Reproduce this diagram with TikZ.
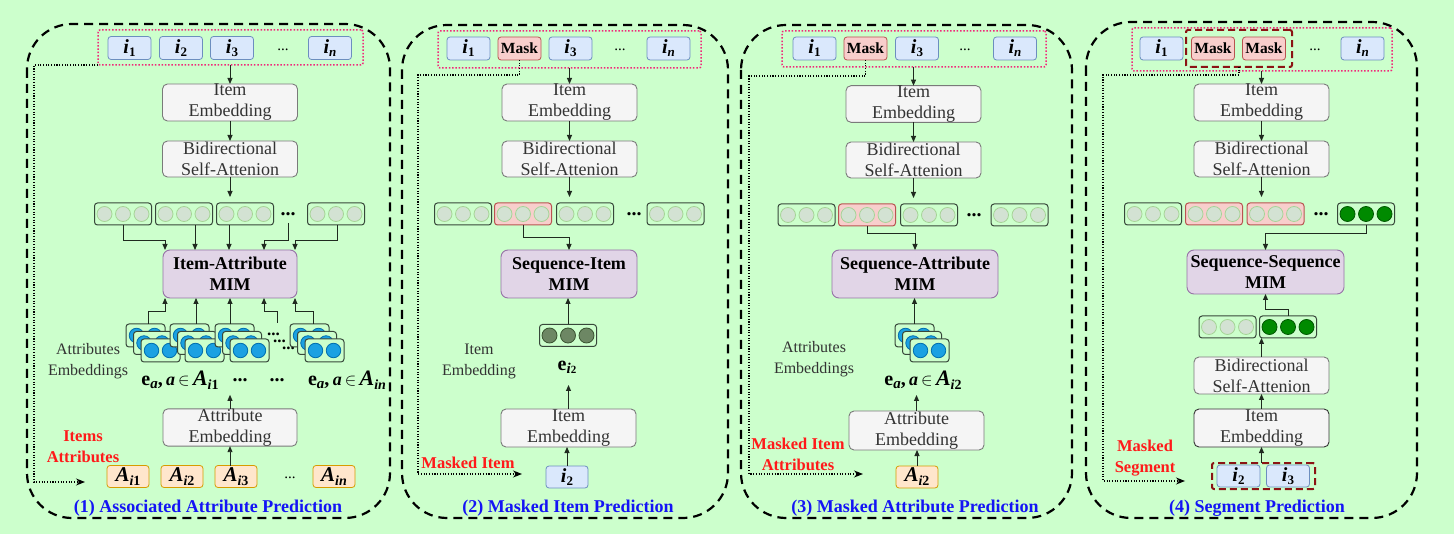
\documentclass[tikz,border=0pt]{standalone}
\usepackage{fontspec}
\setmainfont{Liberation Serif}
\usetikzlibrary{arrows.meta,calc}
\definecolor{bg}{HTML}{CCFFCC}
\definecolor{itemF}{HTML}{DAE8FC}\definecolor{itemD}{HTML}{6C8EBF}
\definecolor{maskF}{HTML}{F8CECC}\definecolor{maskD}{HTML}{B85450}
\definecolor{grayF}{HTML}{F5F5F5}\definecolor{grayD}{HTML}{7A7A7A}
\definecolor{mimF}{HTML}{E1D5E7}\definecolor{mimD}{HTML}{9673A6}
\definecolor{attrF}{HTML}{FFE6CC}\definecolor{attrD}{HTML}{D79B00}
\definecolor{rowD}{HTML}{37473A}
\definecolor{lcF}{HTML}{D3E2D3}\definecolor{lcD}{HTML}{A6D497}
\definecolor{dgF}{HTML}{6D8764}\definecolor{dgD}{HTML}{3A5431}
\definecolor{gF}{HTML}{008A00}\definecolor{gD}{HTML}{005700}
\definecolor{bF}{HTML}{1BA1E2}\definecolor{bD}{HTML}{006EAF}
\definecolor{pinkD}{HTML}{F0287A}
\definecolor{segD}{HTML}{8B1414}
\definecolor{txtD}{HTML}{333333}
\definecolor{arrD}{HTML}{1F2A1F}
\definecolor{redT}{HTML}{FF1A1A}
\definecolor{capT}{HTML}{1414F5}
\newcommand\ii[1]{\textit{i}\raisebox{-3pt}{\fontsize{13}{13}\selectfont\upshape #1}}
\newcommand\Aa[1]{{\fontsize{21}{21}\selectfont\textit{A}}\raisebox{-4pt}{\fontsize{14}{14}\selectfont\textit{i}\upshape #1}}
\newcommand\ea[1]{\textbf{e}\raisebox{-3pt}{\fontsize{15}{15}\selectfont\textbf{\textit{a}}}\textbf{,}\,{\fontsize{18}{18}\selectfont\textbf{\textit{a}}\,$\in$}\,{\fontsize{22}{22}\selectfont\textbf{\textit{A}}}\raisebox{-4pt}{\fontsize{14}{14}\selectfont\textbf{\textit{i}}\textbf{#1}}}
\newcommand\erow[5]{%
  \node[#4] (#1) at (#2,#3) {};
  \node[#5] (#1a) at ($(#1)+(-18.5,0)$) {};
  \node[#5] (#1b) at (#1) {};
  \node[#5] (#1c) at ($(#1)+(18.5,0)$) {};
}
\newcommand\astack[3]{%
  \node[stbox] (#1) at ({#2+19.5},{#3+11.5}) {};
  \node[bc] (#1x) at ($(#1)+(-9,0)$) {};
  \node[bc] (#1y) at ($(#1)+(9,0)$) {};
  \node[stbox] (#1m) at ({#2+27},{#3+19}) {};
  \node[bc] (#1mx) at ($(#1m)+(-9,0)$) {};
  \node[bc] (#1my) at ($(#1m)+(9,0)$) {};
  \node[stbox] (#1f) at ({#2+34.5},{#3+26.5}) {};
  \node[bc] (#1fx) at ($(#1f)+(-9,0)$) {};
  \node[bc] (#1fy) at ($(#1f)+(9,0)$) {};
}
\begin{document}
\begin{tikzpicture}[x=1pt,y=-1pt,
 base/.style={inner sep=0pt, outer sep=0pt},
 itembox/.style={base, rounded corners=3pt, fill=itemF, draw=itemD, line width=0.8pt, minimum width=43pt, minimum height=23pt, font=\fontsize{20}{20}\selectfont\bfseries\itshape},
 maskbox/.style={itembox, fill=maskF, draw=maskD, font=\fontsize{15.5}{15.5}\selectfont\bfseries},
 seqframe/.style={base, draw=pinkD, line width=1.5pt, dash pattern=on 1.5pt off 1.8pt, rounded corners=2pt},
 segbox/.style={base, draw=segD, line width=2pt, dash pattern=on 7pt off 4pt, rounded corners=2pt},
 graybox/.style={base, rounded corners=5pt, fill=grayF, draw=grayD, line width=0.9pt, minimum width=135pt, minimum height=37pt, align=center, text=txtD, font=\fontsize{18}{21}\selectfont},
 mimbox/.style={base, rounded corners=7pt, fill=mimF, draw=mimD, line width=0.9pt, minimum height=48pt, align=center, font=\fontsize{18}{21}\selectfont\bfseries},
 attrbox/.style={base, rounded corners=3pt, fill=attrF, draw=attrD, line width=0.8pt, minimum width=42pt, minimum height=22pt, font=\bfseries\itshape},
 rowbox/.style={base, rounded corners=3pt, draw=rowD, line width=1pt, minimum width=57pt, minimum height=22pt},
 pinkrow/.style={rowbox, fill=maskF, draw=maskD},
 lc/.style={base, circle, minimum size=15pt, fill=lcF, draw=lcD, line width=0.8pt},
 dgc/.style={lc, fill=dgF, draw=dgD},
 gc/.style={lc, fill=gF, draw=gD},
 bc/.style={lc, minimum size=14.5pt, fill=bF, draw=bD},
 stbox/.style={base, rounded corners=3pt, fill=bg, draw=rowD, line width=1pt, minimum width=39pt, minimum height=23pt},
 panel/.style={draw=black, line width=2.2pt, dash pattern=on 9pt off 6pt, rounded corners=45pt},
 arr/.style={draw=arrD, line width=0.9pt, -{Triangle[length=6pt,width=5pt]}},
 dotarr/.style={draw=black, line width=1.1pt, dash pattern=on 1.1pt off 1.6pt, -{Stealth[length=9pt,width=7pt]}},
 gl/.style={base, align=center, text=txtD, font=\fontsize{16}{21}\selectfont},
 redl/.style={base, align=center, text=redT, font=\fontsize{16.5}{21}\selectfont\bfseries},
 capl/.style={base, anchor=base, text=capT, font=\fontsize{18}{18}\selectfont\bfseries},
 dts/.style={base, anchor=base, font=\fontsize{15}{15}\selectfont},
 bdts/.style={base, anchor=base, font=\fontsize{20}{20}\selectfont\bfseries},
 elab/.style={base, anchor=base, font=\fontsize{20}{20}\selectfont},
]
\fill[bg] (0,0) rectangle (1454,534);
\useasboundingbox (0,0) rectangle (1454,534);

% ================= Panel 1 =================
\draw[panel] (27,24) rectangle (390,518);
\node[seqframe, minimum width=265pt, minimum height=35pt] (p1) at (230.5,47.5) {};
\node[itembox] (i11) at (129.5,48) {\ii{1}};
\node[itembox] (i12) at (181,48) {\ii{2}};
\node[itembox] (i13) at (232,48) {\ii{3}};
\node[dts] (id1) at (283,51) {...};
\node[itembox] (i1n) at (330,48) {\ii{\textit{n}}};
\node[graybox] (ie1) at (230,102.5) {Item\\Embedding};
\node[graybox, minimum height=36pt] (bs1) at (230,159) {Bidirectional\\Self-Attenion};
\draw[arr] (p1.south -| ie1.north) -- (ie1.north);
\draw[arr] (ie1.south) -- (bs1.north);
\draw[arr] (bs1.south) -- ++(0,20);
\erow{r11}{123}{214}{rowbox}{lc}
\erow{r12}{184}{214}{rowbox}{lc}
\erow{r13}{245}{214}{rowbox}{lc}
\node[bdts] (d1) at (288,216) {...};
\erow{r15}{336}{214}{rowbox}{lc}
\node[mimbox, minimum width=134pt] (m1) at (230,274) {Item-Attribute\\MIM};
\draw[arr] (r11.south) |- ($(m1.north)+(-65,-10)$) -- ($(m1.north)+(-65,0)$);
\draw[arr] ($(r12.south)+(11,0)$) -- ($(m1.north)+(-35,0)$);
\draw[arr] ($(r13.south)+(-16,0)$) -- ($(m1.north)+(-1,0)$);
\draw[arr] ($(d1.base)+(0,7)$) |- ($(m1.north)+(34,-10)$) -- ($(m1.north)+(34,0)$);
\draw[arr] ($(r15.south)+(1,0)$) |- ($(m1.north)+(65,-10)$) -- ($(m1.north)+(65,0)$);
\astack{s11}{126}{324}
\astack{s12}{170}{324}
\astack{s13}{215}{324}
\node[base, anchor=south west, align=left, text depth=0pt, font=\fontsize{17}{7}\selectfont\bfseries] (sd) at (267,350) {...\\\hspace*{6pt}...\\\hspace*{15pt}...};
\astack{s14}{290}{324}
\draw[arr] ($(s11.north)+(2.5,0)$) |- ($(m1.south)+(-65,13)$) -- ($(m1.south)+(-65,0)$);
\draw[arr] ($(s12.north)+(6.5,0)$) -- ($(m1.south)+(-34,0)$);
\draw[arr] ($(s13.north)+(-4.5,0)$) -- (m1.south);
\draw[arr] ($(sd.south west)+(10,-27)$) |- ($(m1.south)+(34,13)$) -- ($(m1.south)+(34,0)$);
\draw[arr] ($(s14.north)+(3.5,0)$) |- ($(m1.south)+(65,13)$) -- ($(m1.south)+(65,0)$);
\node[gl] (al1) at (88,361.5) {Attributes\\Embeddings};
\node[elab] (e11) at (180,386) {\ea{1}};
\node[bdts] (ed1) at (240,382) {...};
\node[bdts] (ed2) at (277,382) {...};
\node[elab] (e1n) at (347,386) {\ea{\textit{n}}};
\node[graybox, minimum width=134pt] (ae1) at (230,427.5) {Attribute\\Embedding};
\draw[arr] (ae1.north) -- ++(0,-14);
\node[attrbox] (a11) at (128,476.5) {\Aa{1}};
\node[attrbox] (a12) at (182,476.5) {\Aa{2}};
\node[attrbox] (a13) at (236,476.5) {\Aa{3}};
\node[dts] (ad1) at (290,478) {...};
\node[attrbox] (a1n) at (334,476.5) {\Aa{\textit{n}}};
\draw[arr] (ae1.south |- a13.north) -- (ae1.south);
\node[redl] (rl1) at (83,446.5) {Items\\Attributes};
\coordinate (t1) at (85,482);
\draw[dotarr] (p1.south west) -- ++(-64,0) |- (t1);
\node[capl] (c1) at (208,512) {(1) Associated Attribute Prediction};

% ================= Panel 2 =================
\draw[panel] (402,25) rectangle (728,518);
\node[seqframe, minimum width=263pt, minimum height=37pt] (p2) at (569.5,49.5) {};
\node[itembox] (i21) at (468.5,48.5) {\ii{1}};
\node[maskbox] (mk2) at (519.5,48.5) {Mask};
\node[itembox] (i23) at (570.5,48.5) {\ii{3}};
\node[dts] (id2) at (620,51) {...};
\node[itembox] (i2n) at (668.5,48.5) {\ii{\textit{n}}};
\node[graybox] (ie2) at (569.5,102.5) {Item\\Embedding};
\node[graybox, minimum height=36pt] (bs2) at (569.5,159) {Bidirectional\\Self-Attenion};
\draw[arr] (p2.south -| ie2.north) -- (ie2.north);
\draw[arr] (ie2.south) -- (bs2.north);
\draw[arr] (bs2.south) -- ++(0,20);
\erow{r21}{463}{214}{rowbox}{lc}
\erow{r22}{523}{214}{pinkrow}{lc}
\erow{r23}{585}{214}{rowbox}{lc}
\node[bdts] (d2) at (634,216) {...};
\erow{r25}{675.5}{214}{rowbox}{lc}
\node[mimbox, minimum width=136pt] (m2) at (569,274) {Sequence-Item\\MIM};
\draw[arr] (r22.south) |- ($(m2.north)+(0,-13)$) -- (m2.north);
\erow{eb2}{568}{335.5}{rowbox}{dgc}
\draw[arr] (eb2.north) -- (eb2.north |- m2.south);
\node[elab] (e2) at (567,371) {\textbf{e}\raisebox{-3pt}{\fontsize{15}{15}\selectfont\textbf{\textit{i}}\fontsize{11}{11}\selectfont\textbf{2}}};
\node[graybox, minimum height=38pt] (ie22) at (568.5,428) {Item\\Embedding};
\draw[arr] (ie22.north) -- ++(0,-24);
\node[itembox, minimum width=42pt, minimum height=22pt] (i22) at (567,477) {\ii{2}};
\draw[arr] (i22.north) -- (i22.north |- ie22.south);
\node[gl] (gl2) at (479,361) {Item\\Embedding};
\node[redl] (rl2) at (468,463) {Masked Item};
\coordinate (t2) at (522,474);
\draw[dotarr] (mk2.south) |- (418,75) |- (t2);
\node[capl] (c2) at (568,512) {(2) Masked Item Prediction};

% ================= Panel 3 =================
\draw[panel] (741,25) rectangle (1072,518);
\node[seqframe, minimum width=264pt, minimum height=36pt] (p3) at (914,49) {};
\node[itembox] (i31) at (814.5,48.5) {\ii{1}};
\node[maskbox] (mk3) at (865.5,48.5) {Mask};
\node[itembox] (i33) at (917,48.5) {\ii{3}};
\node[dts] (id3) at (965,51) {...};
\node[itembox] (i3n) at (1015,48.5) {\ii{\textit{n}}};
\node[graybox, minimum height=36pt] (ie3) at (913.5,104) {Item\\Embedding};
\node[graybox, minimum height=36pt] (bs3) at (913.5,160) {Bidirectional\\Self-Attenion};
\draw[arr] (p3.south -| ie3.north) -- (ie3.north);
\draw[arr] (ie3.south) -- (bs3.north);
\draw[arr] (bs3.south) -- ++(0,20);
\erow{r31}{806.5}{215}{rowbox}{lc}
\erow{r32}{867}{215}{pinkrow}{lc}
\erow{r33}{929}{215}{rowbox}{lc}
\node[bdts] (d3) at (974,217) {...};
\erow{r35}{1019.5}{215}{rowbox}{lc}
\node[mimbox, minimum width=166pt] (m3) at (915,274) {Sequence-Attribute\\MIM};
\draw[arr] (r32.south) |- ($(m3.north)+(0,-17)$) -- (m3.north);
\astack{s3}{895}{324}
\draw[arr] (s3.north) -- (s3.north |- m3.south);
\node[elab] (e3) at (923,386) {\ea{2}};
\node[graybox, minimum height=39pt] (ae3) at (916.5,430.5) {Attribute\\Embedding};
\draw[arr] (ae3.north) -- ++(0,-16);
\node[attrbox] (a32) at (917,477) {\Aa{2}};
\draw[arr] (a32.north) -- (a32.north |- ae3.south);
\node[gl] (gl3) at (814,359) {Attributes\\Embeddings};
\node[redl] (rl3) at (798,454) {Masked Item\\Attributes};
\coordinate (t3) at (863,474);
\draw[dotarr] (mk3.south) |- (749,76) |- (t3);
\node[capl] (c3) at (915,512) {(3) Masked Attribute Prediction};

% ================= Panel 4 =================
\draw[panel] (1086,22) rectangle (1417,518);
\node[seqframe, minimum width=260pt, minimum height=43pt] (p4) at (1262,49.5) {};
\node[itembox] (i41) at (1161.5,48.5) {\ii{1}};
\node[maskbox] (mk41) at (1213,48.5) {Mask};
\node[maskbox] (mk42) at (1264,48.5) {Mask};
\node[segbox, minimum width=106pt, minimum height=37pt] (dr4) at (1239,48.5) {};
\node[dts] (id4) at (1315,51) {...};
\node[itembox] (i4n) at (1362.5,48.5) {\ii{\textit{n}}};
\node[graybox] (ie4) at (1261.5,102.5) {Item\\Embedding};
\node[graybox, minimum height=36pt] (bs4) at (1261.5,159) {Bidirectional\\Self-Attenion};
\draw[arr] (p4.south -| ie4.north) -- (ie4.north);
\draw[arr] (ie4.south) -- (bs4.north);
\draw[arr] (bs4.south) -- ++(0,20);
\erow{r41}{1153}{214}{rowbox}{lc}
\erow{r42}{1214}{214}{pinkrow}{lc}
\erow{r43}{1275.5}{214}{pinkrow}{lc}
\node[bdts] (d4) at (1321,216) {...};
\erow{r45}{1366}{214}{rowbox}{gc}
\node[mimbox, minimum width=157pt, minimum height=44pt] (m4) at (1265.5,272) {Sequence-Sequence\\MIM};
\draw[arr] (r45.south) |- ($(m4.north)+(0,-17)$) -- (m4.north);
\erow{sb1}{1227.5}{327}{rowbox}{lc}
\erow{sb2}{1288}{327}{rowbox}{gc}
\draw[arr] (sb2.north) |- ($(m4.south)+(0,15)$) -- (m4.south);
\node[graybox] (bs42) at (1261.5,375.5) {Bidirectional\\Self-Attenion};
\draw[arr] (bs42.north) -- ++(0,-19);
\node[graybox, minimum height=38pt, draw=txtD] (ie42) at (1261.5,428) {Item\\Embedding};
\draw[arr] (ie42.north) -- (bs42.south);
\node[segbox, minimum width=103pt, minimum height=26pt] (sg4) at (1263.5,476) {};
\node[itembox, minimum height=22pt] (i42) at (1238.5,476) {\ii{2}};
\node[itembox, minimum height=22pt] (i43) at (1288,476) {\ii{3}};
\draw[arr] (ie42.south |- sg4.north) -- (ie42.south);
\node[redl] (rl4) at (1145,458) {Masked\\Segment};
\coordinate (t4) at (1185,481);
\draw[dotarr] (dr4.south) |- (1103,75) |- (t4);
\node[capl] (c4) at (1257,512) {(4) Segment Prediction};
\end{tikzpicture}
\end{document}
